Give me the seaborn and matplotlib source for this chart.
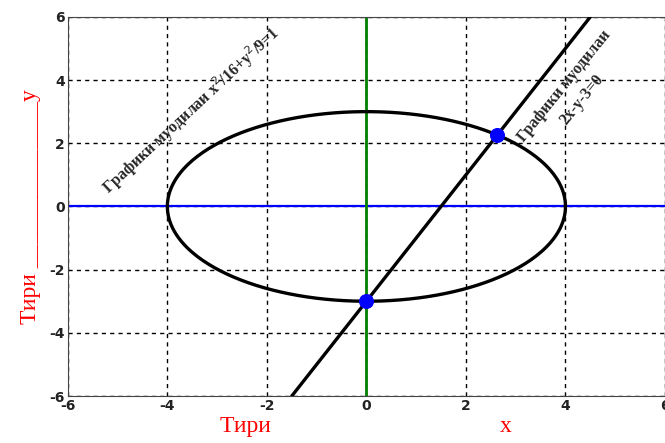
import numpy as np
import pandas as pd
import matplotlib.pyplot as plt
import seaborn as sns

sns.set_style('white')
plt.rcParams['axes.unicode_minus'] = False

# ellipse x^2/a^2 + y^2/b^2 = 1 and line y = k*x + c
ell_a = 4
ell_b = 3
line_k = 2
line_c = -3
line_x = [-1.5, 4.5]
cross_x = [0, 192 / 73]
ticks = [-6, -4, -2, 0, 2, 4, 6]

t = np.linspace(0, 2 * np.pi, 400)
df_ell = pd.DataFrame({'x': ell_a * np.cos(t), 'y': ell_b * np.sin(t)})
df_line = pd.DataFrame({'x': line_x, 'y': [line_k * v + line_c for v in line_x]})
df_pts = pd.DataFrame({'x': cross_x, 'y': [line_k * v + line_c for v in cross_x]})

fig = plt.figure(figsize=(6.65, 4.43), dpi=100)
ax = fig.add_axes([0.102, 0.106, 0.898, 0.856])

ax.axhline(0, color='blue', lw=1.6, zorder=2)
ax.axvline(0, color='green', lw=2, zorder=2)
sns.lineplot(data=df_ell, x='x', y='y', sort=False, estimator=None, color='black', lw=2.4,
             ax=ax, zorder=3)
sns.lineplot(data=df_line, x='x', y='y', estimator=None, color='black', lw=2.4, ax=ax, zorder=3)
sns.scatterplot(data=df_pts, x='x', y='y', color='blue', marker='o', s=100, ax=ax, zorder=4,
                edgecolor='blue')

ax.set_xlim(-6, 6)
ax.set_ylim(-6, 6)
ax.set_xticks(ticks)
ax.set_yticks(ticks)
ax.grid(True, color='black', ls=(0, (3, 3)), lw=1)
for s in ax.spines.values():
    s.set_color('#444444')
ax.tick_params(labelsize=10, length=0, pad=2)
for lab in ax.get_xticklabels() + ax.get_yticklabels():
    lab.set_fontweight('bold')
    lab.set_color('#222222')

ax.set_xlabel('Тири                                       x', color='red',
              fontfamily='Liberation Serif', fontsize=17, labelpad=2)
ax.set_ylabel('Тири ______________y', color='red',
              fontfamily='Liberation Serif', fontsize=17, labelpad=6)

ax.text(-5.1, 0.25, r'Графики муодилаи x$^2$/16+y$^2$/9=1', rotation=43,
        fontfamily='Liberation Serif', fontweight='bold', fontsize=11.5,
        ha='left', va='bottom', rotation_mode='anchor')
ax.text(4.15, 3.6, 'Графики муодилаи\n2x-y-3=0', rotation=51,
        fontfamily='Liberation Serif', fontweight='bold', fontsize=11.5,
        ha='center', va='center', multialignment='center', linespacing=1.5,
        rotation_mode='anchor')

fig.savefig('out.png', dpi=100)
